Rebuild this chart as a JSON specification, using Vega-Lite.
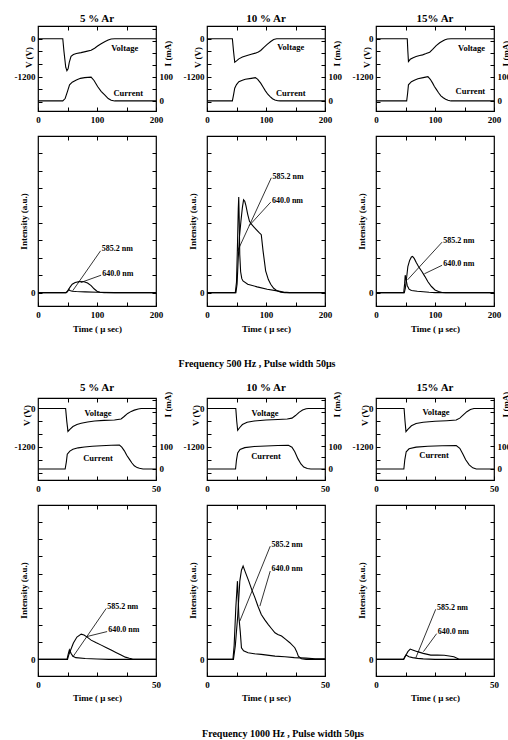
{
  "$schema": "https://vega.github.io/schema/vega-lite/v6.json",
  "padding": {"left": 13, "top": 12, "right": -4, "bottom": 0},
  "background": "white",
  "config": {
    "view": {"stroke": "black", "strokeWidth": 1.2},
    "font": "Liberation Serif",
    "axis": {"domain": false, "grid": false, "tickSize": -4, "tickColor": "black", "tickWidth": 1,
      "labelFont": "Liberation Serif", "labelFontWeight": "bold", "labelFontSize": 9, "labelColor": "black",
      "titleFont": "Liberation Serif", "titleFontWeight": "bold", "titleFontSize": 9, "titleColor": "black",
      "labelFlush": false, "labelOverlap": false},
    "axisX": {"labelPadding": 8},
    "axisY": {"labelPadding": 7},
    "title": {"font": "Liberation Serif", "fontWeight": "bold", "fontSize": 11, "color": "black", "offset": 0.5, "frame": "group", "anchor": "middle"},
    "line": {"color": "black", "strokeWidth": 1.1},
    "text": {"font": "Liberation Serif", "fontWeight": "bold", "color": "black"}
  },
  "datasets": {
    "vi1_5": [
      {"s":"V","t":0,"v":0},{"s":"V","t":42,"v":0},{"s":"V","t":44,"v":-400},{"s":"V","t":47,"v":-900},{"s":"V","t":49,"v":-1010},{"s":"V","t":51,"v":-950},{"s":"V","t":53,"v":-750},{"s":"V","t":56,"v":-560},{"s":"V","t":60,"v":-500},{"s":"V","t":65,"v":-470},{"s":"V","t":73,"v":-440},{"s":"V","t":82,"v":-400},{"s":"V","t":90,"v":-365},{"s":"V","t":96,"v":-300},{"s":"V","t":101,"v":-230},{"s":"V","t":107,"v":-160},{"s":"V","t":113,"v":-95},{"s":"V","t":119,"v":-40},{"s":"V","t":124,"v":-8},{"s":"V","t":130,"v":0},{"s":"V","t":200,"v":0},
      {"s":"I","t":0,"v":0},{"s":"I","t":42,"v":0},{"s":"I","t":46,"v":10},{"s":"I","t":50,"v":40},{"s":"I","t":53.5,"v":67},{"s":"I","t":58,"v":78},{"s":"I","t":65,"v":87},{"s":"I","t":72,"v":94},{"s":"I","t":79,"v":97},{"s":"I","t":90,"v":99},{"s":"I","t":95,"v":85},{"s":"I","t":101,"v":60},{"s":"I","t":107,"v":40},{"s":"I","t":113,"v":25},{"s":"I","t":119,"v":10},{"s":"I","t":124,"v":3},{"s":"I","t":130,"v":0},{"s":"I","t":200,"v":0},
      {"s":"VL","t":147,"v":-290,"txt":"Voltage"},{"s":"IL","t":153,"v":35,"txt":"Current"}
    ],
    "vi1_10": [
      {"s":"V","t":0,"v":0},{"s":"V","t":43,"v":0},{"s":"V","t":45,"v":-400},{"s":"V","t":47,"v":-742},{"s":"V","t":50,"v":-700},{"s":"V","t":54,"v":-636},{"s":"V","t":60,"v":-580},{"s":"V","t":68,"v":-530},{"s":"V","t":75,"v":-490},{"s":"V","t":82,"v":-456},{"s":"V","t":87,"v":-420},{"s":"V","t":91,"v":-371},{"s":"V","t":96,"v":-280},{"s":"V","t":102,"v":-180},{"s":"V","t":108,"v":-90},{"s":"V","t":113,"v":-25},{"s":"V","t":118,"v":0},{"s":"V","t":200,"v":0},
      {"s":"I","t":0,"v":0},{"s":"I","t":43,"v":0},{"s":"I","t":45,"v":25},{"s":"I","t":47,"v":53},{"s":"I","t":50,"v":68},{"s":"I","t":54,"v":80},{"s":"I","t":60,"v":86},{"s":"I","t":65,"v":90},{"s":"I","t":75,"v":94},{"s":"I","t":82,"v":97},{"s":"I","t":86,"v":90},{"s":"I","t":91,"v":74},{"s":"I","t":95,"v":58},{"s":"I","t":99,"v":42},{"s":"I","t":103,"v":28},{"s":"I","t":107,"v":18},{"s":"I","t":111,"v":9},{"s":"I","t":115,"v":4},{"s":"I","t":120,"v":1},{"s":"I","t":124,"v":0},{"s":"I","t":200,"v":0},
      {"s":"VL","t":142,"v":-265,"txt":"Voltage"},{"s":"IL","t":142,"v":32,"txt":"Current"}
    ],
    "vi1_15": [
      {"s":"V","t":0,"v":0},{"s":"V","t":53,"v":0},{"s":"V","t":54,"v":-400},{"s":"V","t":55,"v":-720},{"s":"V","t":58,"v":-650},{"s":"V","t":63,"v":-600},{"s":"V","t":68,"v":-560},{"s":"V","t":74,"v":-530},{"s":"V","t":79,"v":-510},{"s":"V","t":85,"v":-470},{"s":"V","t":91,"v":-425},{"s":"V","t":96,"v":-340},{"s":"V","t":102,"v":-220},{"s":"V","t":108,"v":-130},{"s":"V","t":113,"v":-75},{"s":"V","t":117,"v":-35},{"s":"V","t":121,"v":-10},{"s":"V","t":127,"v":0},{"s":"V","t":200,"v":0},
      {"s":"I","t":0,"v":0},{"s":"I","t":52,"v":0},{"s":"I","t":53.5,"v":30},{"s":"I","t":55,"v":67},{"s":"I","t":60,"v":80},{"s":"I","t":65,"v":86},{"s":"I","t":71,"v":92},{"s":"I","t":80,"v":97},{"s":"I","t":88,"v":101},{"s":"I","t":92,"v":90},{"s":"I","t":96,"v":74},{"s":"I","t":99,"v":60},{"s":"I","t":102,"v":49},{"s":"I","t":106,"v":34},{"s":"I","t":110,"v":21},{"s":"I","t":114,"v":13},{"s":"I","t":118,"v":7},{"s":"I","t":122,"v":3},{"s":"I","t":127,"v":0},{"s":"I","t":200,"v":0},
      {"s":"VL","t":162,"v":-300,"txt":"Voltage"},{"s":"IL","t":160,"v":40,"txt":"Current"}
    ],
    "vi2_5": [
      {"s":"V","t":0,"v":0},{"s":"V","t":11.7,"v":0},{"s":"V","t":12.2,"v":-400},{"s":"V","t":12.7,"v":-714},{"s":"V","t":13.5,"v":-650},{"s":"V","t":14.8,"v":-561},{"s":"V","t":16.5,"v":-500},{"s":"V","t":18.3,"v":-459},{"s":"V","t":21,"v":-420},{"s":"V","t":24,"v":-388},{"s":"V","t":28,"v":-370},{"s":"V","t":32.4,"v":-357},{"s":"V","t":35.2,"v":-326},{"s":"V","t":36.5,"v":-250},{"s":"V","t":38,"v":-153},{"s":"V","t":39.5,"v":-90},{"s":"V","t":40.8,"v":-51},{"s":"V","t":42.5,"v":-15},{"s":"V","t":43.7,"v":0},{"s":"V","t":50,"v":0},
      {"s":"I","t":0,"v":0},{"s":"I","t":11.5,"v":0},{"s":"I","t":12,"v":30},{"s":"I","t":12.4,"v":64},{"s":"I","t":13.5,"v":78},{"s":"I","t":14.8,"v":86},{"s":"I","t":17,"v":92},{"s":"I","t":19.7,"v":96},{"s":"I","t":23,"v":99},{"s":"I","t":26.8,"v":101},{"s":"I","t":31,"v":103},{"s":"I","t":34.5,"v":104},{"s":"I","t":35.5,"v":95},{"s":"I","t":36.6,"v":79},{"s":"I","t":37.6,"v":60},{"s":"I","t":38.7,"v":43},{"s":"I","t":39.8,"v":26},{"s":"I","t":40.8,"v":14},{"s":"I","t":42,"v":6},{"s":"I","t":43,"v":3},{"s":"I","t":44.5,"v":0},{"s":"I","t":50,"v":0},
      {"s":"VL","t":25.4,"v":-153,"txt":"Voltage"},{"s":"IL","t":25.4,"v":47,"txt":"Current"}
    ],
    "vi2_10": [
      {"s":"V","t":0,"v":0},{"s":"V","t":12.2,"v":0},{"s":"V","t":12.6,"v":-400},{"s":"V","t":13,"v":-680},{"s":"V","t":13.8,"v":-600},{"s":"V","t":15,"v":-500},{"s":"V","t":17,"v":-430},{"s":"V","t":20,"v":-390},{"s":"V","t":25,"v":-360},{"s":"V","t":30,"v":-345},{"s":"V","t":34,"v":-330},{"s":"V","t":36,"v":-300},{"s":"V","t":37.5,"v":-220},{"s":"V","t":39,"v":-120},{"s":"V","t":40.5,"v":-50},{"s":"V","t":42,"v":-10},{"s":"V","t":43,"v":0},{"s":"V","t":50,"v":0},
      {"s":"I","t":0,"v":0},{"s":"I","t":12.1,"v":0},{"s":"I","t":12.5,"v":40},{"s":"I","t":13,"v":70},{"s":"I","t":14,"v":85},{"s":"I","t":16,"v":93},{"s":"I","t":20,"v":98},{"s":"I","t":25,"v":100},{"s":"I","t":30,"v":102},{"s":"I","t":34.5,"v":103},{"s":"I","t":36,"v":95},{"s":"I","t":37.2,"v":75},{"s":"I","t":38.5,"v":45},{"s":"I","t":39.8,"v":22},{"s":"I","t":41,"v":8},{"s":"I","t":42.5,"v":2},{"s":"I","t":44,"v":0},{"s":"I","t":50,"v":0},
      {"s":"VL","t":24.6,"v":-130,"txt":"Voltage"},{"s":"IL","t":25,"v":55,"txt":"Current"}
    ],
    "vi2_15": [
      {"s":"V","t":0,"v":0},{"s":"V","t":11.9,"v":0},{"s":"V","t":12.3,"v":-400},{"s":"V","t":12.7,"v":-720},{"s":"V","t":13.5,"v":-650},{"s":"V","t":15,"v":-540},{"s":"V","t":17,"v":-470},{"s":"V","t":20,"v":-430},{"s":"V","t":25,"v":-400},{"s":"V","t":30,"v":-380},{"s":"V","t":34,"v":-360},{"s":"V","t":35.5,"v":-300},{"s":"V","t":37,"v":-200},{"s":"V","t":38.5,"v":-100},{"s":"V","t":40,"v":-30},{"s":"V","t":41.5,"v":0},{"s":"V","t":50,"v":0},
      {"s":"I","t":0,"v":0},{"s":"I","t":11.8,"v":0},{"s":"I","t":12.2,"v":40},{"s":"I","t":12.8,"v":75},{"s":"I","t":14,"v":88},{"s":"I","t":17,"v":95},{"s":"I","t":22,"v":99},{"s":"I","t":28,"v":101},{"s":"I","t":34,"v":102},{"s":"I","t":35.5,"v":90},{"s":"I","t":36.8,"v":65},{"s":"I","t":38,"v":40},{"s":"I","t":39.5,"v":18},{"s":"I","t":41,"v":5},{"s":"I","t":42.5,"v":0},{"s":"I","t":50,"v":0},
      {"s":"VL","t":25.4,"v":-120,"txt":"Voltage"},{"s":"IL","t":24.6,"v":60,"txt":"Current"}
    ],
    "in1_5": [
      {"w":"585.2 nm","t":0,"v":0},{"w":"585.2 nm","t":48,"v":0},{"w":"585.2 nm","t":50,"v":0.05},{"w":"585.2 nm","t":52,"v":0.18},{"w":"585.2 nm","t":54,"v":0.12},{"w":"585.2 nm","t":58,"v":0.08},{"w":"585.2 nm","t":65,"v":0.06},{"w":"585.2 nm","t":80,"v":0.04},{"w":"585.2 nm","t":100,"v":0.02},{"w":"585.2 nm","t":130,"v":0},{"w":"585.2 nm","t":200,"v":0},
      {"w":"640.0 nm","t":0,"v":0},{"w":"640.0 nm","t":47,"v":0},{"w":"640.0 nm","t":50,"v":0.08},{"w":"640.0 nm","t":54,"v":0.3},{"w":"640.0 nm","t":58,"v":0.48},{"w":"640.0 nm","t":63,"v":0.58},{"w":"640.0 nm","t":70,"v":0.63},{"w":"640.0 nm","t":78,"v":0.62},{"w":"640.0 nm","t":84,"v":0.55},{"w":"640.0 nm","t":90,"v":0.4},{"w":"640.0 nm","t":95,"v":0.22},{"w":"640.0 nm","t":100,"v":0.08},{"w":"640.0 nm","t":105,"v":0.02},{"w":"640.0 nm","t":112,"v":0},{"w":"640.0 nm","t":200,"v":0},
      {"txt":"585.2 nm","t":108,"v":2.5,"t1":106,"v1":2.4,"t2":58.7,"v2":0.1},
      {"txt":"640.0 nm","t":109,"v":1.06,"t1":107,"v1":1.0,"t2":72.6,"v2":0.58}
    ],
    "in1_10": [
      {"w":"585.2 nm","t":0,"v":0},{"w":"585.2 nm","t":48,"v":0},{"w":"585.2 nm","t":50,"v":0.6},{"w":"585.2 nm","t":51.5,"v":2.5},{"w":"585.2 nm","t":53,"v":4.8},{"w":"585.2 nm","t":53.8,"v":5.5},{"w":"585.2 nm","t":54.6,"v":4.2},{"w":"585.2 nm","t":55.5,"v":2.2},{"w":"585.2 nm","t":57,"v":1.2},{"w":"585.2 nm","t":59,"v":0.8},{"w":"585.2 nm","t":61,"v":0.67},{"w":"585.2 nm","t":69,"v":0.48},{"w":"585.2 nm","t":85,"v":0.33},{"w":"585.2 nm","t":102,"v":0.19},{"w":"585.2 nm","t":119,"v":0.1},{"w":"585.2 nm","t":130,"v":0.03},{"w":"585.2 nm","t":140,"v":0},{"w":"585.2 nm","t":200,"v":0},
      {"w":"640.0 nm","t":0,"v":0},{"w":"640.0 nm","t":49,"v":0},{"w":"640.0 nm","t":51,"v":0.5},{"w":"640.0 nm","t":53,"v":2.0},{"w":"640.0 nm","t":55,"v":3.2},{"w":"640.0 nm","t":57.5,"v":4.1},{"w":"640.0 nm","t":60,"v":4.9},{"w":"640.0 nm","t":62,"v":5.33},{"w":"640.0 nm","t":64,"v":5.25},{"w":"640.0 nm","t":66,"v":5.0},{"w":"640.0 nm","t":69,"v":4.5},{"w":"640.0 nm","t":72,"v":4.1},{"w":"640.0 nm","t":76,"v":3.9},{"w":"640.0 nm","t":80,"v":3.75},{"w":"640.0 nm","t":88,"v":3.46},{"w":"640.0 nm","t":92,"v":3.33},{"w":"640.0 nm","t":95,"v":2.4},{"w":"640.0 nm","t":99.4,"v":1.25},{"w":"640.0 nm","t":104,"v":0.75},{"w":"640.0 nm","t":108,"v":0.48},{"w":"640.0 nm","t":113,"v":0.25},{"w":"640.0 nm","t":119,"v":0.1},{"w":"640.0 nm","t":125,"v":0.02},{"w":"640.0 nm","t":132,"v":0},{"w":"640.0 nm","t":200,"v":0},
      {"txt":"585.2 nm","t":111,"v":6.67,"t1":109,"v1":6.6,"t2":52,"v2":2.4},
      {"txt":"640.0 nm","t":110,"v":5.29,"t1":108,"v1":5.2,"t2":71.5,"v2":3.85}
    ],
    "in1_15": [
      {"w":"585.2 nm","t":0,"v":0},{"w":"585.2 nm","t":47,"v":0},{"w":"585.2 nm","t":48.5,"v":0.5},{"w":"585.2 nm","t":49.5,"v":1.0},{"w":"585.2 nm","t":51,"v":0.75},{"w":"585.2 nm","t":53,"v":0.4},{"w":"585.2 nm","t":56,"v":0.2},{"w":"585.2 nm","t":60,"v":0.12},{"w":"585.2 nm","t":70,"v":0.08},{"w":"585.2 nm","t":80,"v":0.05},{"w":"585.2 nm","t":90,"v":0.02},{"w":"585.2 nm","t":100,"v":0},{"w":"585.2 nm","t":200,"v":0},
      {"w":"640.0 nm","t":0,"v":0},{"w":"640.0 nm","t":48,"v":0},{"w":"640.0 nm","t":50,"v":0.3},{"w":"640.0 nm","t":52,"v":0.9},{"w":"640.0 nm","t":54,"v":1.5},{"w":"640.0 nm","t":57,"v":1.85},{"w":"640.0 nm","t":60,"v":2.05},{"w":"640.0 nm","t":62,"v":2.08},{"w":"640.0 nm","t":65,"v":1.95},{"w":"640.0 nm","t":68,"v":1.75},{"w":"640.0 nm","t":72,"v":1.5},{"w":"640.0 nm","t":78,"v":1.2},{"w":"640.0 nm","t":83,"v":0.92},{"w":"640.0 nm","t":88,"v":0.62},{"w":"640.0 nm","t":94,"v":0.35},{"w":"640.0 nm","t":100,"v":0.15},{"w":"640.0 nm","t":106,"v":0.06},{"w":"640.0 nm","t":112,"v":0.01},{"w":"640.0 nm","t":118,"v":0},{"w":"640.0 nm","t":200,"v":0},
      {"txt":"585.2 nm","t":114,"v":2.98,"t1":112,"v1":2.9,"t2":53.4,"v2":0.73},
      {"txt":"640.0 nm","t":114,"v":1.63,"t1":112,"v1":1.57,"t2":82,"v2":1.08}
    ],
    "in2_5": [
      {"w":"585.2 nm","t":0,"v":0},{"w":"585.2 nm","t":12.3,"v":0},{"w":"585.2 nm","t":12.8,"v":0.3},{"w":"585.2 nm","t":13.3,"v":0.55},{"w":"585.2 nm","t":14,"v":0.35},{"w":"585.2 nm","t":14.8,"v":0.18},{"w":"585.2 nm","t":16,"v":0.1},{"w":"585.2 nm","t":20,"v":0.05},{"w":"585.2 nm","t":25,"v":0.02},{"w":"585.2 nm","t":30,"v":0},{"w":"585.2 nm","t":50,"v":0},
      {"w":"640.0 nm","t":0,"v":0},{"w":"640.0 nm","t":12.5,"v":0},{"w":"640.0 nm","t":13,"v":0.25},{"w":"640.0 nm","t":14,"v":0.6},{"w":"640.0 nm","t":15,"v":0.95},{"w":"640.0 nm","t":16.5,"v":1.3},{"w":"640.0 nm","t":18.3,"v":1.47},{"w":"640.0 nm","t":19.5,"v":1.42},{"w":"640.0 nm","t":21,"v":1.28},{"w":"640.0 nm","t":22.5,"v":1.12},{"w":"640.0 nm","t":24.5,"v":0.98},{"w":"640.0 nm","t":26.8,"v":0.83},{"w":"640.0 nm","t":29,"v":0.68},{"w":"640.0 nm","t":31,"v":0.54},{"w":"640.0 nm","t":33,"v":0.4},{"w":"640.0 nm","t":35.2,"v":0.25},{"w":"640.0 nm","t":37,"v":0.13},{"w":"640.0 nm","t":38.7,"v":0.06},{"w":"640.0 nm","t":40,"v":0.02},{"w":"640.0 nm","t":42,"v":0},{"w":"640.0 nm","t":50,"v":0},
      {"txt":"585.2 nm","t":29.3,"v":3.06,"t1":28.9,"v1":2.97,"t2":14.8,"v2":0.15},
      {"txt":"640.0 nm","t":29.8,"v":1.7,"t1":29.3,"v1":1.62,"t2":20.4,"v2":1.32}
    ],
    "in2_10": [
      {"w":"585.2 nm","t":0,"v":0},{"w":"585.2 nm","t":11,"v":0},{"w":"585.2 nm","t":11.5,"v":0.8},{"w":"585.2 nm","t":12.2,"v":3.0},{"w":"585.2 nm","t":12.9,"v":4.56},{"w":"585.2 nm","t":13.2,"v":3.6},{"w":"585.2 nm","t":13.5,"v":2.5},{"w":"585.2 nm","t":14.1,"v":1.6},{"w":"585.2 nm","t":14.6,"v":0.68},{"w":"585.2 nm","t":15.5,"v":0.5},{"w":"585.2 nm","t":17.4,"v":0.39},{"w":"585.2 nm","t":20,"v":0.33},{"w":"585.2 nm","t":23,"v":0.29},{"w":"585.2 nm","t":28.8,"v":0.19},{"w":"585.2 nm","t":33,"v":0.15},{"w":"585.2 nm","t":37,"v":0.1},{"w":"585.2 nm","t":42,"v":0.07},{"w":"585.2 nm","t":45.8,"v":0.04},{"w":"585.2 nm","t":50,"v":0.03},
      {"w":"640.0 nm","t":0,"v":0},{"w":"640.0 nm","t":11.2,"v":0},{"w":"640.0 nm","t":12,"v":0.8},{"w":"640.0 nm","t":13,"v":2.5},{"w":"640.0 nm","t":13.9,"v":4.56},{"w":"640.0 nm","t":14.6,"v":5.2},{"w":"640.0 nm","t":15.3,"v":5.44},{"w":"640.0 nm","t":16.2,"v":5.1},{"w":"640.0 nm","t":17.7,"v":4.56},{"w":"640.0 nm","t":19,"v":4.05},{"w":"640.0 nm","t":20.3,"v":3.6},{"w":"640.0 nm","t":21.6,"v":3.1},{"w":"640.0 nm","t":23,"v":2.62},{"w":"640.0 nm","t":24.5,"v":2.3},{"w":"640.0 nm","t":25.9,"v":2.04},{"w":"640.0 nm","t":27.3,"v":1.8},{"w":"640.0 nm","t":28.8,"v":1.55},{"w":"640.0 nm","t":30,"v":1.45},{"w":"640.0 nm","t":31.6,"v":1.36},{"w":"640.0 nm","t":33.5,"v":1.15},{"w":"640.0 nm","t":35.1,"v":0.97},{"w":"640.0 nm","t":37.2,"v":0.68},{"w":"640.0 nm","t":38,"v":0.45},{"w":"640.0 nm","t":38.7,"v":0.19},{"w":"640.0 nm","t":40,"v":0.04},{"w":"640.0 nm","t":42,"v":0},{"w":"640.0 nm","t":50,"v":0},
      {"txt":"585.2 nm","t":27.3,"v":6.66,"t1":26.8,"v1":6.6,"t2":13.9,"v2":2.23},
      {"txt":"640.0 nm","t":27.3,"v":5.24,"t1":26.8,"v1":5.15,"t2":22.4,"v2":3.1}
    ],
    "in2_15": [
      {"w":"585.2 nm","t":0,"v":0},{"w":"585.2 nm","t":11.7,"v":0},{"w":"585.2 nm","t":12.2,"v":0.15},{"w":"585.2 nm","t":12.7,"v":0.25},{"w":"585.2 nm","t":14,"v":0.15},{"w":"585.2 nm","t":15.5,"v":0.1},{"w":"585.2 nm","t":17.6,"v":0.06},{"w":"585.2 nm","t":20,"v":0.03},{"w":"585.2 nm","t":25,"v":0},{"w":"585.2 nm","t":50,"v":0},
      {"w":"640.0 nm","t":0,"v":0},{"w":"640.0 nm","t":11.7,"v":0},{"w":"640.0 nm","t":12.5,"v":0.2},{"w":"640.0 nm","t":13.5,"v":0.45},{"w":"640.0 nm","t":14.5,"v":0.6},{"w":"640.0 nm","t":15.5,"v":0.55},{"w":"640.0 nm","t":17.6,"v":0.45},{"w":"640.0 nm","t":20,"v":0.35},{"w":"640.0 nm","t":23.2,"v":0.25},{"w":"640.0 nm","t":26,"v":0.25},{"w":"640.0 nm","t":28.9,"v":0.24},{"w":"640.0 nm","t":31,"v":0.2},{"w":"640.0 nm","t":33,"v":0.15},{"w":"640.0 nm","t":35,"v":0.02},{"w":"640.0 nm","t":37,"v":0},{"w":"640.0 nm","t":50,"v":0},
      {"txt":"585.2 nm","t":25.8,"v":3.0,"t1":25.3,"v1":2.92,"t2":16.9,"v2":0.1},
      {"txt":"640.0 nm","t":26.2,"v":1.58,"t1":25.7,"v1":1.5,"t2":20.1,"v2":0.45}
    ]
  },
  "columns": 3,
  "bounds": "flush",
  "spacing": {"row": 25, "column": 51},
  "concat": [
    {"width": 118, "height": 85, "title": "5 % Ar", "data": {"name": "vi1_5"},
     "resolve": {"scale": {"y": "independent"}, "axis": {"x": "independent"}},
     "layer": [
       {"transform": [{"filter": "datum.s == 'V'"}], "mark": "line",
        "encoding": {"x": {"field": "t", "type": "quantitative", "scale": {"domain": [0, 200], "nice": false}, "axis": {"values": [0, 50, 100, 150, 200], "labelExpr": "datum.value % 100 == 0 ? datum.label : ''", "title": null}},
          "y": {"field": "v", "type": "quantitative", "scale": {"domain": [-2283, 401], "nice": false, "zero": false}, "axis": {"values": [0, -400, -800, -1200, -1600, -2000], "labelExpr": "datum.value == 0 ? '0' : datum.value == -1200 ? '-1200' : ''", "title": "V (V)", "titleX": -10, "titleY": 31, "titleAngle": -90, "titleAlign": "center", "titleBaseline": "middle"}}}},
       {"transform": [{"filter": "datum.s == 'VL'"}], "mark": {"type": "text", "fontSize": 8.5},
        "encoding": {"x": {"field": "t", "type": "quantitative", "scale": {"domain": [0, 200], "nice": false}, "axis": null}, "y": {"field": "v", "type": "quantitative", "scale": {"domain": [-2283, 401], "nice": false, "zero": false}, "axis": null}, "text": {"field": "txt"}}},
       {"transform": [{"filter": "datum.s == 'I'"}], "mark": "line",
        "encoding": {"x": {"field": "t", "type": "quantitative", "scale": {"domain": [0, 200], "nice": false}, "axis": {"orient": "top", "values": [50, 100, 150], "labels": false, "title": null}},
          "y": {"field": "v", "type": "quantitative", "scale": {"domain": [-42, 312], "nice": false, "zero": false}, "axis": {"orient": "right", "values": [0, 50, 100, 150, 200, 250, 300], "labelExpr": "datum.value == 0 || datum.value == 100 ? datum.label : ''", "title": "I (mA)", "titleX": 11, "titleY": 27, "titleAngle": -90, "titleAlign": "center", "titleBaseline": "middle"}}}},
       {"transform": [{"filter": "datum.s == 'IL'"}], "mark": {"type": "text", "fontSize": 8.5},
        "encoding": {"x": {"field": "t", "type": "quantitative", "scale": {"domain": [0, 200], "nice": false}, "axis": null}, "y": {"field": "v", "type": "quantitative", "scale": {"domain": [-42, 312], "nice": false, "zero": false}, "axis": null}, "text": {"field": "txt"}}}
     ]},
    {"width": 118, "height": 85, "title": "10 % Ar", "data": {"name": "vi1_10"},
     "resolve": {"scale": {"y": "independent"}, "axis": {"x": "independent"}},
     "layer": [
       {"transform": [{"filter": "datum.s == 'V'"}], "mark": "line",
        "encoding": {"x": {"field": "t", "type": "quantitative", "scale": {"domain": [0, 200], "nice": false}, "axis": {"values": [0, 50, 100, 150, 200], "labelExpr": "datum.value % 100 == 0 ? datum.label : ''", "title": null}},
          "y": {"field": "v", "type": "quantitative", "scale": {"domain": [-2283, 401], "nice": false, "zero": false}, "axis": {"values": [0, -400, -800, -1200, -1600, -2000], "labelExpr": "datum.value == 0 ? '0' : datum.value == -1200 ? '-1200' : ''", "title": "V (V)", "titleX": -10, "titleY": 31, "titleAngle": -90, "titleAlign": "center", "titleBaseline": "middle"}}}},
       {"transform": [{"filter": "datum.s == 'VL'"}], "mark": {"type": "text", "fontSize": 8.5},
        "encoding": {"x": {"field": "t", "type": "quantitative", "scale": {"domain": [0, 200], "nice": false}, "axis": null}, "y": {"field": "v", "type": "quantitative", "scale": {"domain": [-2283, 401], "nice": false, "zero": false}, "axis": null}, "text": {"field": "txt"}}},
       {"transform": [{"filter": "datum.s == 'I'"}], "mark": "line",
        "encoding": {"x": {"field": "t", "type": "quantitative", "scale": {"domain": [0, 200], "nice": false}, "axis": {"orient": "top", "values": [50, 100, 150], "labels": false, "title": null}},
          "y": {"field": "v", "type": "quantitative", "scale": {"domain": [-42, 312], "nice": false, "zero": false}, "axis": {"orient": "right", "values": [0, 50, 100, 150, 200, 250, 300], "labelExpr": "datum.value == 0 || datum.value == 100 ? datum.label : ''", "title": "I (mA)", "titleX": 11, "titleY": 27, "titleAngle": -90, "titleAlign": "center", "titleBaseline": "middle"}}}},
       {"transform": [{"filter": "datum.s == 'IL'"}], "mark": {"type": "text", "fontSize": 8.5},
        "encoding": {"x": {"field": "t", "type": "quantitative", "scale": {"domain": [0, 200], "nice": false}, "axis": null}, "y": {"field": "v", "type": "quantitative", "scale": {"domain": [-42, 312], "nice": false, "zero": false}, "axis": null}, "text": {"field": "txt"}}}
     ]},
    {"width": 118, "height": 85, "title": "15% Ar", "data": {"name": "vi1_15"},
     "resolve": {"scale": {"y": "independent"}, "axis": {"x": "independent"}},
     "layer": [
       {"transform": [{"filter": "datum.s == 'V'"}], "mark": "line",
        "encoding": {"x": {"field": "t", "type": "quantitative", "scale": {"domain": [0, 200], "nice": false}, "axis": {"values": [0, 50, 100, 150, 200], "labelExpr": "datum.value % 100 == 0 ? datum.label : ''", "title": null}},
          "y": {"field": "v", "type": "quantitative", "scale": {"domain": [-2283, 401], "nice": false, "zero": false}, "axis": {"values": [0, -400, -800, -1200, -1600, -2000], "labelExpr": "datum.value == 0 ? '0' : datum.value == -1200 ? '-1200' : ''", "title": "V (V)", "titleX": -10, "titleY": 31, "titleAngle": -90, "titleAlign": "center", "titleBaseline": "middle"}}}},
       {"transform": [{"filter": "datum.s == 'VL'"}], "mark": {"type": "text", "fontSize": 8.5},
        "encoding": {"x": {"field": "t", "type": "quantitative", "scale": {"domain": [0, 200], "nice": false}, "axis": null}, "y": {"field": "v", "type": "quantitative", "scale": {"domain": [-2283, 401], "nice": false, "zero": false}, "axis": null}, "text": {"field": "txt"}}},
       {"transform": [{"filter": "datum.s == 'I'"}], "mark": "line",
        "encoding": {"x": {"field": "t", "type": "quantitative", "scale": {"domain": [0, 200], "nice": false}, "axis": {"orient": "top", "values": [50, 100, 150], "labels": false, "title": null}},
          "y": {"field": "v", "type": "quantitative", "scale": {"domain": [-42, 312], "nice": false, "zero": false}, "axis": {"orient": "right", "values": [0, 50, 100, 150, 200, 250, 300], "labelExpr": "datum.value == 0 || datum.value == 100 ? datum.label : ''", "title": "I (mA)", "titleX": 11, "titleY": 27, "titleAngle": -90, "titleAlign": "center", "titleBaseline": "middle"}}}},
       {"transform": [{"filter": "datum.s == 'IL'"}], "mark": {"type": "text", "fontSize": 8.5},
        "encoding": {"x": {"field": "t", "type": "quantitative", "scale": {"domain": [0, 200], "nice": false}, "axis": null}, "y": {"field": "v", "type": "quantitative", "scale": {"domain": [-42, 312], "nice": false, "zero": false}, "axis": null}, "text": {"field": "txt"}}}
     ]},
    {"width": 118, "height": 170, "data": {"name": "in1_5"},
     "resolve": {"axis": {"x": "independent", "y": "independent"}},
     "layer": [
       {"transform": [{"filter": "!isValid(datum.txt)"}], "mark": "line",
        "encoding": {"x": {"field": "t", "type": "quantitative", "scale": {"domain": [0, 200], "nice": false}, "axis": {"values": [0, 50, 100, 150, 200], "labelExpr": "datum.value % 100 == 0 ? datum.label : ''", "title": "Time ( μ sec)", "titleY": 22, "titleBaseline": "middle"}},
          "y": {"field": "v", "type": "quantitative", "scale": {"domain": [-0.77, 9], "nice": false, "zero": false}, "axis": {"values": [0, 1, 2, 3, 4, 5, 6, 7, 8], "labelExpr": "datum.value == 0 ? '0' : ''", "title": "Intensity (a.u.)", "titleX": -15, "titleY": 85, "titleAngle": -90, "titleAlign": "center", "titleBaseline": "middle"}},
          "detail": {"field": "w"}}},
       {"transform": [{"filter": "isValid(datum.txt)"}], "mark": {"type": "rule", "color": "black", "strokeWidth": 0.8},
        "encoding": {"x": {"field": "t1", "type": "quantitative", "scale": {"domain": [0, 200], "nice": false}, "axis": {"orient": "top", "values": [50, 100, 150], "labels": false, "title": null}},
          "y": {"field": "v1", "type": "quantitative", "scale": {"domain": [-0.77, 9], "nice": false, "zero": false}, "axis": {"orient": "right", "values": [0, 1, 2, 3, 4, 5, 6, 7, 8], "labels": false, "title": null}},
          "x2": {"field": "t2"}, "y2": {"field": "v2"}}},
       {"transform": [{"filter": "isValid(datum.txt)"}], "mark": {"type": "text", "align": "left", "baseline": "middle", "fontSize": 8},
        "encoding": {"x": {"field": "t", "type": "quantitative", "scale": {"domain": [0, 200], "nice": false}, "axis": null}, "y": {"field": "v", "type": "quantitative", "scale": {"domain": [-0.77, 9], "nice": false, "zero": false}, "axis": null}, "text": {"field": "txt"}}}
     ]},
    {"width": 118, "height": 170, "data": {"name": "in1_10"},
     "resolve": {"axis": {"x": "independent", "y": "independent"}},
     "layer": [
       {"transform": [{"filter": "!isValid(datum.txt)"}], "mark": "line",
        "encoding": {"x": {"field": "t", "type": "quantitative", "scale": {"domain": [0, 200], "nice": false}, "axis": {"values": [0, 50, 100, 150, 200], "labelExpr": "datum.value % 100 == 0 ? datum.label : ''", "title": "Time ( μ sec)", "titleY": 22, "titleBaseline": "middle"}},
          "y": {"field": "v", "type": "quantitative", "scale": {"domain": [-0.77, 9], "nice": false, "zero": false}, "axis": {"values": [0, 1, 2, 3, 4, 5, 6, 7, 8], "labelExpr": "datum.value == 0 ? '0' : ''", "title": "Intensity (a.u.)", "titleX": -15, "titleY": 85, "titleAngle": -90, "titleAlign": "center", "titleBaseline": "middle"}},
          "detail": {"field": "w"}}},
       {"transform": [{"filter": "isValid(datum.txt)"}], "mark": {"type": "rule", "color": "black", "strokeWidth": 0.8},
        "encoding": {"x": {"field": "t1", "type": "quantitative", "scale": {"domain": [0, 200], "nice": false}, "axis": {"orient": "top", "values": [50, 100, 150], "labels": false, "title": null}},
          "y": {"field": "v1", "type": "quantitative", "scale": {"domain": [-0.77, 9], "nice": false, "zero": false}, "axis": {"orient": "right", "values": [0, 1, 2, 3, 4, 5, 6, 7, 8], "labels": false, "title": null}},
          "x2": {"field": "t2"}, "y2": {"field": "v2"}}},
       {"transform": [{"filter": "isValid(datum.txt)"}], "mark": {"type": "text", "align": "left", "baseline": "middle", "fontSize": 8},
        "encoding": {"x": {"field": "t", "type": "quantitative", "scale": {"domain": [0, 200], "nice": false}, "axis": null}, "y": {"field": "v", "type": "quantitative", "scale": {"domain": [-0.77, 9], "nice": false, "zero": false}, "axis": null}, "text": {"field": "txt"}}}
     ]},
    {"width": 118, "height": 170, "data": {"name": "in1_15"},
     "resolve": {"axis": {"x": "independent", "y": "independent"}},
     "layer": [
       {"transform": [{"filter": "!isValid(datum.txt)"}], "mark": "line",
        "encoding": {"x": {"field": "t", "type": "quantitative", "scale": {"domain": [0, 200], "nice": false}, "axis": {"values": [0, 50, 100, 150, 200], "labelExpr": "datum.value % 100 == 0 ? datum.label : ''", "title": "Time ( μ sec)", "titleY": 22, "titleBaseline": "middle"}},
          "y": {"field": "v", "type": "quantitative", "scale": {"domain": [-0.77, 9], "nice": false, "zero": false}, "axis": {"values": [0, 1, 2, 3, 4, 5, 6, 7, 8], "labelExpr": "datum.value == 0 ? '0' : ''", "title": "Intensity (a.u.)", "titleX": -15, "titleY": 85, "titleAngle": -90, "titleAlign": "center", "titleBaseline": "middle"}},
          "detail": {"field": "w"}}},
       {"transform": [{"filter": "isValid(datum.txt)"}], "mark": {"type": "rule", "color": "black", "strokeWidth": 0.8},
        "encoding": {"x": {"field": "t1", "type": "quantitative", "scale": {"domain": [0, 200], "nice": false}, "axis": {"orient": "top", "values": [50, 100, 150], "labels": false, "title": null}},
          "y": {"field": "v1", "type": "quantitative", "scale": {"domain": [-0.77, 9], "nice": false, "zero": false}, "axis": {"orient": "right", "values": [0, 1, 2, 3, 4, 5, 6, 7, 8], "labels": false, "title": null}},
          "x2": {"field": "t2"}, "y2": {"field": "v2"}}},
       {"transform": [{"filter": "isValid(datum.txt)"}], "mark": {"type": "text", "align": "left", "baseline": "middle", "fontSize": 8},
        "encoding": {"x": {"field": "t", "type": "quantitative", "scale": {"domain": [0, 200], "nice": false}, "axis": null}, "y": {"field": "v", "type": "quantitative", "scale": {"domain": [-0.77, 9], "nice": false, "zero": false}, "axis": null}, "text": {"field": "txt"}}}
     ]},
    {"width": 118, "height": 42, "view": {"stroke": null}, "data": {"values": []}, "mark": "point"},
    {"width": 118, "height": 42, "view": {"stroke": null}, "data": {"values": []}, "mark": "point",
     "title": {"text": "Frequency 500 Hz , Pulse width 50μs", "orient": "bottom", "anchor": "middle", "frame": "group", "offset": -9, "baseline": "middle", "fontSize": 10, "dx": -9}},
    {"width": 118, "height": 42, "view": {"stroke": null}, "data": {"values": []}, "mark": "point"},
    {"width": 118, "height": 82, "title": {"text": "5 % Ar", "offset": -1.5}, "data": {"name": "vi2_5"},
     "resolve": {"scale": {"y": "independent"}, "axis": {"x": "independent"}},
     "layer": [
       {"transform": [{"filter": "datum.s == 'V'"}], "mark": "line",
        "encoding": {"x": {"field": "t", "type": "quantitative", "scale": {"domain": [0, 50], "nice": false}, "axis": {"values": [0, 12.5, 25, 37.5, 50], "labelExpr": "datum.value == 0 || datum.value == 50 ? datum.label : ''", "title": null}},
          "y": {"field": "v", "type": "quantitative", "scale": {"domain": [-2229, 327], "nice": false, "zero": false}, "axis": {"values": [0, -400, -800, -1200, -1600, -2000], "labelExpr": "datum.value == 0 ? '0' : datum.value == -1200 ? '-1200' : ''", "title": "V (V)", "titleX": -12, "titleY": 17, "titleAngle": -90, "titleAlign": "center", "titleBaseline": "middle"}}}},
       {"transform": [{"filter": "datum.s == 'VL'"}], "mark": {"type": "text", "fontSize": 8.5},
        "encoding": {"x": {"field": "t", "type": "quantitative", "scale": {"domain": [0, 50], "nice": false}, "axis": null}, "y": {"field": "v", "type": "quantitative", "scale": {"domain": [-2229, 327], "nice": false, "zero": false}, "axis": null}, "text": {"field": "txt"}}},
       {"transform": [{"filter": "datum.s == 'I'"}], "mark": "line",
        "encoding": {"x": {"field": "t", "type": "quantitative", "scale": {"domain": [0, 50], "nice": false}, "axis": {"orient": "top", "values": [12.5, 25, 37.5], "labels": false, "title": null}},
          "y": {"field": "v", "type": "quantitative", "scale": {"domain": [-48, 309], "nice": false, "zero": false}, "axis": {"orient": "right", "values": [0, 50, 100, 150, 200, 250, 300], "labelExpr": "datum.value == 0 || datum.value == 100 ? datum.label : ''", "title": "I (mA)", "titleX": 11, "titleY": 6, "titleAngle": -90, "titleAlign": "center", "titleBaseline": "middle"}}}},
       {"transform": [{"filter": "datum.s == 'IL'"}], "mark": {"type": "text", "fontSize": 8.5},
        "encoding": {"x": {"field": "t", "type": "quantitative", "scale": {"domain": [0, 50], "nice": false}, "axis": null}, "y": {"field": "v", "type": "quantitative", "scale": {"domain": [-48, 309], "nice": false, "zero": false}, "axis": null}, "text": {"field": "txt"}}}
     ]},
    {"width": 118, "height": 82, "title": {"text": "10 % Ar", "offset": -1.5}, "data": {"name": "vi2_10"},
     "resolve": {"scale": {"y": "independent"}, "axis": {"x": "independent"}},
     "layer": [
       {"transform": [{"filter": "datum.s == 'V'"}], "mark": "line",
        "encoding": {"x": {"field": "t", "type": "quantitative", "scale": {"domain": [0, 50], "nice": false}, "axis": {"values": [0, 12.5, 25, 37.5, 50], "labelExpr": "datum.value == 0 || datum.value == 50 ? datum.label : ''", "title": null}},
          "y": {"field": "v", "type": "quantitative", "scale": {"domain": [-2229, 327], "nice": false, "zero": false}, "axis": {"values": [0, -400, -800, -1200, -1600, -2000], "labelExpr": "datum.value == 0 ? '0' : datum.value == -1200 ? '-1200' : ''", "title": "V (V)", "titleX": -12, "titleY": 17, "titleAngle": -90, "titleAlign": "center", "titleBaseline": "middle"}}}},
       {"transform": [{"filter": "datum.s == 'VL'"}], "mark": {"type": "text", "fontSize": 8.5},
        "encoding": {"x": {"field": "t", "type": "quantitative", "scale": {"domain": [0, 50], "nice": false}, "axis": null}, "y": {"field": "v", "type": "quantitative", "scale": {"domain": [-2229, 327], "nice": false, "zero": false}, "axis": null}, "text": {"field": "txt"}}},
       {"transform": [{"filter": "datum.s == 'I'"}], "mark": "line",
        "encoding": {"x": {"field": "t", "type": "quantitative", "scale": {"domain": [0, 50], "nice": false}, "axis": {"orient": "top", "values": [12.5, 25, 37.5], "labels": false, "title": null}},
          "y": {"field": "v", "type": "quantitative", "scale": {"domain": [-48, 309], "nice": false, "zero": false}, "axis": {"orient": "right", "values": [0, 50, 100, 150, 200, 250, 300], "labelExpr": "datum.value == 0 || datum.value == 100 ? datum.label : ''", "title": "I (mA)", "titleX": 11, "titleY": 6, "titleAngle": -90, "titleAlign": "center", "titleBaseline": "middle"}}}},
       {"transform": [{"filter": "datum.s == 'IL'"}], "mark": {"type": "text", "fontSize": 8.5},
        "encoding": {"x": {"field": "t", "type": "quantitative", "scale": {"domain": [0, 50], "nice": false}, "axis": null}, "y": {"field": "v", "type": "quantitative", "scale": {"domain": [-48, 309], "nice": false, "zero": false}, "axis": null}, "text": {"field": "txt"}}}
     ]},
    {"width": 118, "height": 82, "title": {"text": "15% Ar", "offset": -1.5}, "data": {"name": "vi2_15"},
     "resolve": {"scale": {"y": "independent"}, "axis": {"x": "independent"}},
     "layer": [
       {"transform": [{"filter": "datum.s == 'V'"}], "mark": "line",
        "encoding": {"x": {"field": "t", "type": "quantitative", "scale": {"domain": [0, 50], "nice": false}, "axis": {"values": [0, 12.5, 25, 37.5, 50], "labelExpr": "datum.value == 0 || datum.value == 50 ? datum.label : ''", "title": null}},
          "y": {"field": "v", "type": "quantitative", "scale": {"domain": [-2229, 327], "nice": false, "zero": false}, "axis": {"values": [0, -400, -800, -1200, -1600, -2000], "labelExpr": "datum.value == 0 ? '0' : datum.value == -1200 ? '-1200' : ''", "title": "V (V)", "titleX": -12, "titleY": 17, "titleAngle": -90, "titleAlign": "center", "titleBaseline": "middle"}}}},
       {"transform": [{"filter": "datum.s == 'VL'"}], "mark": {"type": "text", "fontSize": 8.5},
        "encoding": {"x": {"field": "t", "type": "quantitative", "scale": {"domain": [0, 50], "nice": false}, "axis": null}, "y": {"field": "v", "type": "quantitative", "scale": {"domain": [-2229, 327], "nice": false, "zero": false}, "axis": null}, "text": {"field": "txt"}}},
       {"transform": [{"filter": "datum.s == 'I'"}], "mark": "line",
        "encoding": {"x": {"field": "t", "type": "quantitative", "scale": {"domain": [0, 50], "nice": false}, "axis": {"orient": "top", "values": [12.5, 25, 37.5], "labels": false, "title": null}},
          "y": {"field": "v", "type": "quantitative", "scale": {"domain": [-48, 309], "nice": false, "zero": false}, "axis": {"orient": "right", "values": [0, 50, 100, 150, 200, 250, 300], "labelExpr": "datum.value == 0 || datum.value == 100 ? datum.label : ''", "title": "I (mA)", "titleX": 11, "titleY": 6, "titleAngle": -90, "titleAlign": "center", "titleBaseline": "middle"}}}},
       {"transform": [{"filter": "datum.s == 'IL'"}], "mark": {"type": "text", "fontSize": 8.5},
        "encoding": {"x": {"field": "t", "type": "quantitative", "scale": {"domain": [0, 50], "nice": false}, "axis": null}, "y": {"field": "v", "type": "quantitative", "scale": {"domain": [-48, 309], "nice": false, "zero": false}, "axis": null}, "text": {"field": "txt"}}}
     ]},
    {"width": 118, "height": 171, "data": {"name": "in2_5"},
     "resolve": {"axis": {"x": "independent", "y": "independent"}},
     "layer": [
       {"transform": [{"filter": "!isValid(datum.txt)"}], "mark": "line",
        "encoding": {"x": {"field": "t", "type": "quantitative", "scale": {"domain": [0, 50], "nice": false}, "axis": {"values": [0, 12.5, 25, 37.5, 50], "labelExpr": "datum.value == 0 || datum.value == 50 ? datum.label : ''", "title": "Time ( μ sec)", "titleY": 21, "titleBaseline": "middle"}},
          "y": {"field": "v", "type": "quantitative", "scale": {"domain": [-0.97, 9], "nice": false, "zero": false}, "axis": {"values": [0, 1, 2, 3, 4, 5, 6, 7, 8], "labelExpr": "datum.value == 0 ? '0' : ''", "title": "Intensity (a.u.)", "titleX": -15, "titleY": 85, "titleAngle": -90, "titleAlign": "center", "titleBaseline": "middle"}},
          "detail": {"field": "w"}}},
       {"transform": [{"filter": "isValid(datum.txt)"}], "mark": {"type": "rule", "color": "black", "strokeWidth": 0.8},
        "encoding": {"x": {"field": "t1", "type": "quantitative", "scale": {"domain": [0, 50], "nice": false}, "axis": {"orient": "top", "values": [12.5, 25, 37.5], "labels": false, "title": null}},
          "y": {"field": "v1", "type": "quantitative", "scale": {"domain": [-0.97, 9], "nice": false, "zero": false}, "axis": {"orient": "right", "values": [0, 1, 2, 3, 4, 5, 6, 7, 8], "labels": false, "title": null}},
          "x2": {"field": "t2"}, "y2": {"field": "v2"}}},
       {"transform": [{"filter": "isValid(datum.txt)"}], "mark": {"type": "text", "align": "left", "baseline": "middle", "fontSize": 8},
        "encoding": {"x": {"field": "t", "type": "quantitative", "scale": {"domain": [0, 50], "nice": false}, "axis": null}, "y": {"field": "v", "type": "quantitative", "scale": {"domain": [-0.97, 9], "nice": false, "zero": false}, "axis": null}, "text": {"field": "txt"}}}
     ]},
    {"width": 118, "height": 171, "data": {"name": "in2_10"},
     "resolve": {"axis": {"x": "independent", "y": "independent"}},
     "layer": [
       {"transform": [{"filter": "!isValid(datum.txt)"}], "mark": "line",
        "encoding": {"x": {"field": "t", "type": "quantitative", "scale": {"domain": [0, 50], "nice": false}, "axis": {"values": [0, 12.5, 25, 37.5, 50], "labelExpr": "datum.value == 0 || datum.value == 50 ? datum.label : ''", "title": "Time ( μ sec)", "titleY": 21, "titleBaseline": "middle"}},
          "y": {"field": "v", "type": "quantitative", "scale": {"domain": [-0.97, 9], "nice": false, "zero": false}, "axis": {"values": [0, 1, 2, 3, 4, 5, 6, 7, 8], "labelExpr": "datum.value == 0 ? '0' : ''", "title": "Intensity (a.u.)", "titleX": -15, "titleY": 85, "titleAngle": -90, "titleAlign": "center", "titleBaseline": "middle"}},
          "detail": {"field": "w"}}},
       {"transform": [{"filter": "isValid(datum.txt)"}], "mark": {"type": "rule", "color": "black", "strokeWidth": 0.8},
        "encoding": {"x": {"field": "t1", "type": "quantitative", "scale": {"domain": [0, 50], "nice": false}, "axis": {"orient": "top", "values": [12.5, 25, 37.5], "labels": false, "title": null}},
          "y": {"field": "v1", "type": "quantitative", "scale": {"domain": [-0.97, 9], "nice": false, "zero": false}, "axis": {"orient": "right", "values": [0, 1, 2, 3, 4, 5, 6, 7, 8], "labels": false, "title": null}},
          "x2": {"field": "t2"}, "y2": {"field": "v2"}}},
       {"transform": [{"filter": "isValid(datum.txt)"}], "mark": {"type": "text", "align": "left", "baseline": "middle", "fontSize": 8},
        "encoding": {"x": {"field": "t", "type": "quantitative", "scale": {"domain": [0, 50], "nice": false}, "axis": null}, "y": {"field": "v", "type": "quantitative", "scale": {"domain": [-0.97, 9], "nice": false, "zero": false}, "axis": null}, "text": {"field": "txt"}}}
     ]},
    {"width": 118, "height": 171, "data": {"name": "in2_15"},
     "resolve": {"axis": {"x": "independent", "y": "independent"}},
     "layer": [
       {"transform": [{"filter": "!isValid(datum.txt)"}], "mark": "line",
        "encoding": {"x": {"field": "t", "type": "quantitative", "scale": {"domain": [0, 50], "nice": false}, "axis": {"values": [0, 12.5, 25, 37.5, 50], "labelExpr": "datum.value == 0 || datum.value == 50 ? datum.label : ''", "title": "Time ( μ sec)", "titleY": 21, "titleBaseline": "middle"}},
          "y": {"field": "v", "type": "quantitative", "scale": {"domain": [-0.97, 9], "nice": false, "zero": false}, "axis": {"values": [0, 1, 2, 3, 4, 5, 6, 7, 8], "labelExpr": "datum.value == 0 ? '0' : ''", "title": "Intensity (a.u.)", "titleX": -15, "titleY": 85, "titleAngle": -90, "titleAlign": "center", "titleBaseline": "middle"}},
          "detail": {"field": "w"}}},
       {"transform": [{"filter": "isValid(datum.txt)"}], "mark": {"type": "rule", "color": "black", "strokeWidth": 0.8},
        "encoding": {"x": {"field": "t1", "type": "quantitative", "scale": {"domain": [0, 50], "nice": false}, "axis": {"orient": "top", "values": [12.5, 25, 37.5], "labels": false, "title": null}},
          "y": {"field": "v1", "type": "quantitative", "scale": {"domain": [-0.97, 9], "nice": false, "zero": false}, "axis": {"orient": "right", "values": [0, 1, 2, 3, 4, 5, 6, 7, 8], "labels": false, "title": null}},
          "x2": {"field": "t2"}, "y2": {"field": "v2"}}},
       {"transform": [{"filter": "isValid(datum.txt)"}], "mark": {"type": "text", "align": "left", "baseline": "middle", "fontSize": 8},
        "encoding": {"x": {"field": "t", "type": "quantitative", "scale": {"domain": [0, 50], "nice": false}, "axis": null}, "y": {"field": "v", "type": "quantitative", "scale": {"domain": [-0.97, 9], "nice": false, "zero": false}, "axis": null}, "text": {"field": "txt"}}}
     ]},
    {"width": 118, "height": 36, "view": {"stroke": null}, "data": {"values": []}, "mark": "point"},
    {"width": 118, "height": 36, "view": {"stroke": null}, "data": {"values": []}, "mark": "point",
     "title": {"text": "Frequency 1000 Hz , Pulse width 50μs", "orient": "bottom", "anchor": "middle", "frame": "group", "offset": -3, "baseline": "middle", "fontSize": 10, "dx": 17}},
    {"width": 118, "height": 36, "view": {"stroke": null}, "data": {"values": []}, "mark": "point"}
  ]
}
